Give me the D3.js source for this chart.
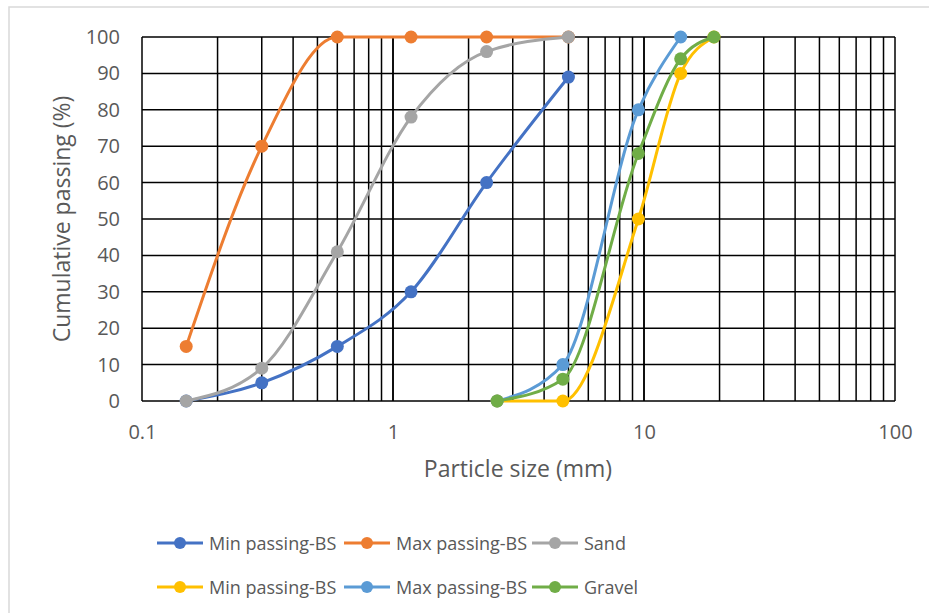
<!DOCTYPE html>
<html>
<head>
<meta charset="utf-8">
<script src="https://cdn.jsdelivr.net/npm/d3@7"></script>
<style>
  body { margin: 0; background: #fff; }
  text { font-family: "Open Sans", "Liberation Sans", sans-serif; fill: #595959; }
</style>
</head>
<body>
<script>
const w = 929;
const h = 613;

// sieve sizes (mm)
const sandSizes = [0.15, 0.3, 0.6, 1.18, 2.36, 5];
const gravelSizes = [2.6, 4.75, 9.5, 14, 19];

// cumulative passing (%)
const sandMin = [0, 5, 15, 30, 60, 89];
const sandMax = [15, 70, 100, 100, 100, 100];
const sand = [0, 9, 41, 78, 96, 100];
const gravelMin = [0, 0, 50, 90, 100];
const gravelMax = [0, 10, 80, 100];
const gravel = [0, 6, 68, 94, 100];

const xTicks = [0.1, 1, 10, 100];
const yTicks = [0, 10, 20, 30, 40, 50, 60, 70, 80, 90, 100];

const series = [
  {name: "Min passing-BS", color: "#4472C4", x: sandSizes, y: sandMin},
  {name: "Max passing-BS", color: "#ED7D31", x: sandSizes, y: sandMax},
  {name: "Sand", color: "#A5A5A5", x: sandSizes, y: sand},
  {name: "Min passing-BS", color: "#FFC000", x: gravelSizes, y: gravelMin},
  {name: "Max passing-BS", color: "#5B9BD5", x: gravelSizes, y: gravelMax},
  {name: "Gravel", color: "#70AD47", x: gravelSizes, y: gravel}
];

const pLeft = 142, pRight = 895, pTop = 37, pBottom = 401;

const svg = d3.select("body").append("svg")
    .attr("width", w)
    .attr("height", h);

// chart border
svg.append("rect")
    .attr("x", 9).attr("y", 7)
    .attr("width", w + 20).attr("height", h + 20)
    .attr("fill", "#fff")
    .attr("stroke", "#d9d9d9")
    .attr("stroke-width", 1.5);

const xScale = d3.scaleLog().domain([0.1, 100]).range([pLeft, pRight]);
const yScale = d3.scaleLinear().domain([0, 100]).range([pBottom, pTop]);

// grid
let minor = [];
[0.1, 1, 10].forEach(function(d) {
  for (let k = 1; k <= 10; k++) minor.push(d * k);
});

svg.append("g")
  .selectAll("line")
  .data(minor)
  .enter()
  .append("line")
  .attr("x1", d => xScale(d)).attr("x2", d => xScale(d))
  .attr("y1", pTop).attr("y2", pBottom)
  .attr("stroke", "#000")
  .attr("stroke-width", 1.5);

svg.append("g")
  .selectAll("line")
  .data(yTicks)
  .enter()
  .append("line")
  .attr("x1", pLeft).attr("x2", pRight)
  .attr("y1", d => yScale(d)).attr("y2", d => yScale(d))
  .attr("stroke", "#000")
  .attr("stroke-width", 1.5);

// axes labels
const xAxis = d3.axisBottom(xScale)
    .tickValues(xTicks)
    .tickFormat(d3.format("~g"))
    .tickSize(0)
    .tickPadding(24);

svg.append("g")
    .attr("class", "xaxis")
    .attr("transform", "translate(0," + pBottom + ")")
    .call(xAxis)
    .call(g => g.select(".domain").remove());

const yAxis = d3.axisLeft(yScale)
    .tickValues(yTicks)
    .tickSize(0)
    .tickPadding(22);

svg.append("g")
    .attr("class", "yaxis")
    .attr("transform", "translate(" + pLeft + ",0)")
    .call(yAxis)
    .call(g => g.select(".domain").remove());

svg.selectAll(".xaxis text, .yaxis text")
    .attr("fill", "#595959")
    .style("font-size", "20px")
    .style("font-family", "'Open Sans', sans-serif");

svg.append("text")
    .attr("x", 518)
    .attr("y", 477)
    .attr("text-anchor", "middle")
    .style("font-size", "23px")
    .text("Particle size (mm)");

svg.append("text")
    .attr("transform", "translate(70," + ((pTop + pBottom) / 2) + ") rotate(-90)")
    .attr("text-anchor", "middle")
    .style("font-size", "23px")
    .text("Cumulative passing (%)");

// lines
const line = d3.line()
    .x(d => xScale(d[0]))
    .y(d => yScale(d[1]))
    .curve(d3.curveMonotoneX);

series.forEach(function(s) {
  const pts = s.y.map((v, i) => [s.x[i], v]);
  const g = svg.append("g");
  g.append("path")
    .attr("d", line(pts))
    .attr("fill", "none")
    .attr("stroke", s.color)
    .attr("stroke-width", 3);
  g.selectAll("circle")
    .data(pts)
    .enter()
    .append("circle")
    .attr("cx", d => xScale(d[0]))
    .attr("cy", d => yScale(d[1]))
    .attr("r", 6.5)
    .attr("fill", s.color);
});

// legend
const legX = [157, 344, 532];
const legY = [543, 587];

series.forEach(function(s, i) {
  const lx = legX[i % 3];
  const ly = legY[Math.floor(i / 3)];
  const g = svg.append("g");
  g.append("line")
    .attr("x1", lx).attr("x2", lx + 46)
    .attr("y1", ly).attr("y2", ly)
    .attr("stroke", s.color)
    .attr("stroke-width", 3);
  g.append("circle")
    .attr("cx", lx + 23).attr("cy", ly)
    .attr("r", 6)
    .attr("fill", s.color);
  g.append("text")
    .attr("x", lx + 52)
    .attr("y", ly + 7)
    .style("font-size", "18px")
    .text(s.name);
});
</script>
</body>
</html>
